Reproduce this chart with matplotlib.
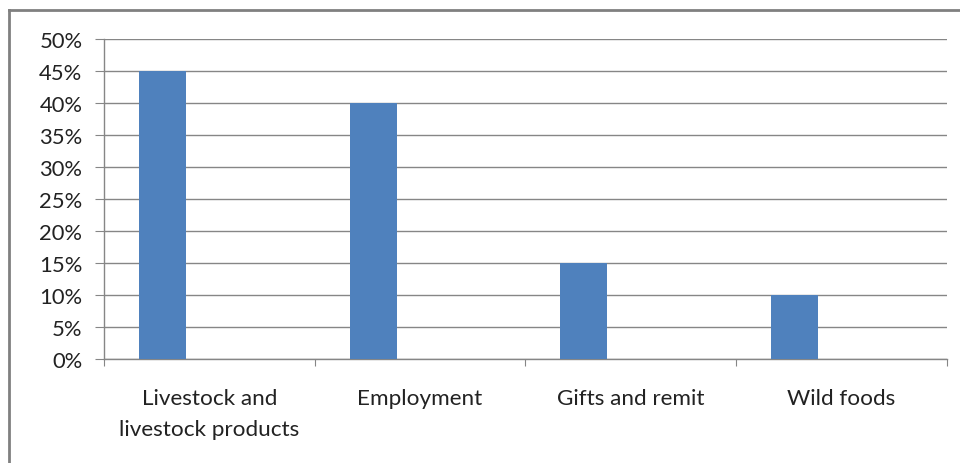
import numpy as np
import matplotlib.pyplot as plt
from matplotlib.lines import Line2D

categories = ["Livestock and\nlivestock products", "Employment", "Gifts and remit", "Wild foods"]
shares = [45, 40, 15, 10]
y_ticks = [0, 5, 10, 15, 20, 25, 30, 35, 40, 45, 50]

plt.rcParams["font.family"] = ["Lato", "DejaVu Sans"]

fig = plt.figure(figsize=(9.6, 4.64), dpi=100)
ax = fig.add_axes([0.1083, 0.2241, 0.8778, 0.6897])

# bars sit in the first of three slots per category (gap width 150%)
bar_w = 1 / 4.5
x = np.arange(len(categories))
ax.bar(x - 0.5 + 0.75 * bar_w + bar_w / 2, shares, width=bar_w, color="#4F81BD", zorder=3)

ax.set_xlim(-0.5, len(categories) - 0.5)
ax.set_ylim(0, 50)
ax.set_yticks(y_ticks)
ax.set_yticklabels([f"{t}%" for t in y_ticks])

ax.set_xticks(np.arange(len(categories) + 1) - 0.5)
ax.set_xticklabels([])
ax.set_xticks(x, minor=True)
ax.set_xticklabels(categories, minor=True, linespacing=1.65)

grey = "#868686"
ax.grid(axis="y", color=grey, linewidth=1, zorder=0)
for side in ["top", "right"]:
    ax.spines[side].set_visible(False)
for side in ["left", "bottom"]:
    ax.spines[side].set_color(grey)
    ax.spines[side].set_linewidth(1)

ax.tick_params(axis="y", which="major", length=6.5, color=grey, pad=9, labelsize=15.8, labelcolor="#222222")
ax.tick_params(axis="x", which="major", length=5, color=grey)
ax.tick_params(axis="x", which="minor", length=0, pad=21, labelsize=16.2, labelcolor="#222222")

# chart frame (left and top edges)
fig.add_artist(Line2D([9 / 960, 9 / 960], [0, 1 - 11 / 464], color="#808080", linewidth=2))
fig.add_artist(Line2D([9 / 960, 1], [1 - 11 / 464, 1 - 11 / 464], color="#808080", linewidth=2))

fig.savefig("out.png", dpi=100)
